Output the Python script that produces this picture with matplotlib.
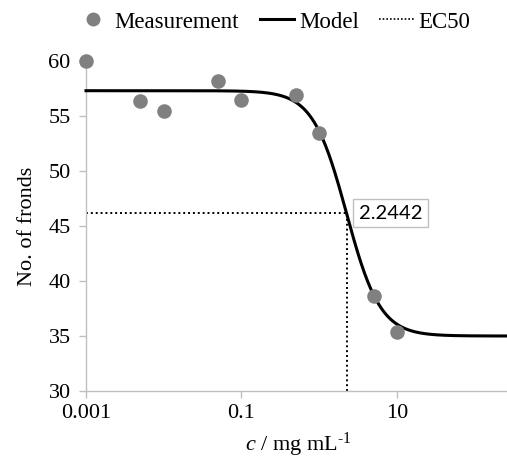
import numpy as np
import matplotlib
matplotlib.use("Agg")
import matplotlib.pyplot as plt
from matplotlib.lines import Line2D

# Data
conc = [0.001, 0.005, 0.01, 0.05, 0.1, 0.5, 1, 5, 10]
fronds = [60.0, 56.4, 55.5, 58.2, 56.5, 56.9, 53.5, 38.6, 35.4]
model_top = 57.3
model_bottom = 35.0
ec50 = 2.2442
hill = 2.0
ec50_label = "2.2442"
xtick_vals = [0.001, 0.1, 10]
xtick_labels = ["0.001", "0.1", "10"]
ytick_vals = [30, 35, 40, 45, 50, 55, 60]

plt.rcParams['font.family'] = ['Liberation Serif', 'DejaVu Serif']
plt.rcParams['mathtext.fontset'] = 'custom'
plt.rcParams['mathtext.it'] = 'Liberation Serif:italic'
plt.rcParams['mathtext.rm'] = 'Liberation Serif'

fig = plt.figure(figsize=(5.07, 4.59), dpi=100)
ax = fig.add_axes([86/507, (459-391)/459, 1 - 86/507, (391-61)/459])

gray_axis = '#BFBFBF'
xmax = 10**2.415
xs = np.logspace(-3, np.log10(xmax), 400)
ys = model_bottom + (model_top - model_bottom) / (1 + (xs/ec50)**hill)
ec50_y = model_bottom + (model_top - model_bottom) / 2

ax.plot(xs, ys, color='black', lw=2.2, zorder=3, clip_on=False)
ax.scatter(conc, fronds, s=110, color='#808080', zorder=4, clip_on=False, linewidths=0)
ax.plot([0.001, ec50], [ec50_y, ec50_y], color='black', lw=1.4, ls=(0, (1, 1.5)), zorder=2)
ax.plot([ec50, ec50], [30, ec50_y], color='black', lw=1.4, ls=(0, (1, 1.5)), zorder=2)

ax.annotate(ec50_label, xy=(ec50, ec50_y), xytext=(9, 0), textcoords='offset points',
            fontsize=14.5, family=['Lato', 'DejaVu Sans'], va='center', ha='left',
            bbox=dict(boxstyle='square,pad=0.28', fc='white', ec=gray_axis, lw=1), zorder=5)

ax.set_xscale('log')
ax.set_xticks(xtick_vals)
ax.set_xticklabels(xtick_labels)
ax.xaxis.set_minor_locator(matplotlib.ticker.NullLocator())
ax.set_yticks(ytick_vals)
ax.set_xlim(0.001, xmax)
ax.set_ylim(30, 60)

for s in ['top', 'right']:
    ax.spines[s].set_visible(False)
for s in ['left', 'bottom']:
    ax.spines[s].set_color(gray_axis)
    ax.spines[s].set_linewidth(1)
ax.tick_params(axis='both', colors=gray_axis, length=5, width=1, direction='out',
               labelcolor='black', labelsize=16)
ax.tick_params(axis='x', pad=4)
ax.tick_params(axis='y', pad=6)

ax.set_ylabel('No. of fronds', fontsize=16, labelpad=8)
ax.set_xlabel(r'$c$ / mg mL$^{\text{-1}}$', fontsize=16, labelpad=2)
ax.xaxis.set_label_coords((298-86)/(507-86), -0.12)

handles = [
    Line2D([], [], marker='o', ls='none', color='#808080', markersize=10, markeredgewidth=0),
    Line2D([], [], color='black', lw=2.2),
    Line2D([], [], color='black', lw=1.2, ls=(0, (1, 1.2))),
]
fig.legend(handles, ['Measurement', 'Model', 'EC50'], loc='center', bbox_to_anchor=(273/507, 1 - 22/459),
           ncol=3, frameon=False, fontsize=16.5, handlelength=1.5, handletextpad=0.2, columnspacing=0.9)

fig.savefig('out.png', dpi=100)
